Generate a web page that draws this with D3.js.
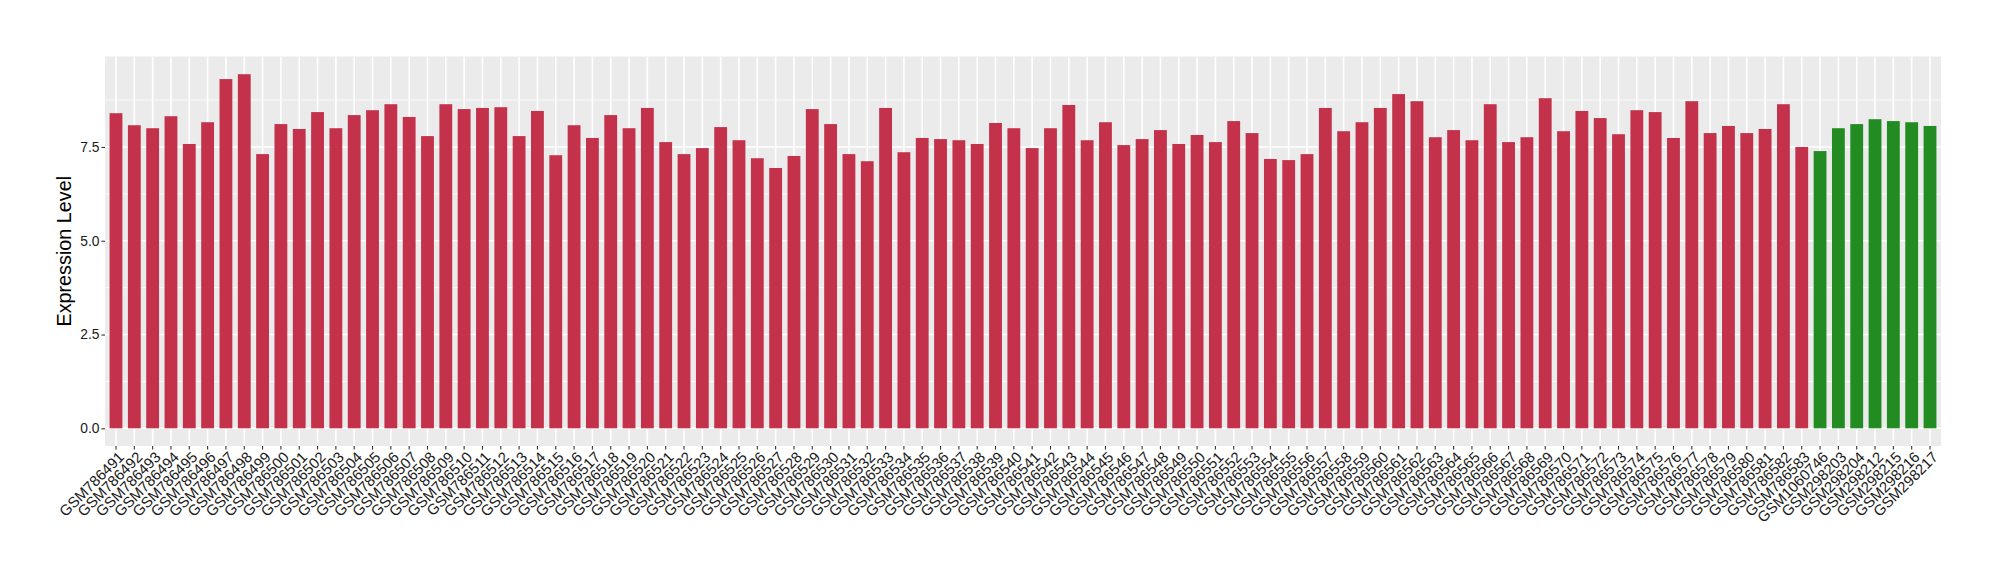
<!DOCTYPE html>
<html>
<head>
<meta charset="utf-8">
<script src="https://cdn.jsdelivr.net/npm/d3@7"></script>
<style>
  body { margin: 0; background: #ffffff; }
  text { font-family: "Liberation Sans", Arial, sans-serif; }
</style>
</head>
<body>
<svg id="barChart"></svg>
<script>
// samples, red group
var tumorSamples = ["GSM786491", "GSM786492", "GSM786493", "GSM786494", "GSM786495", "GSM786496", "GSM786497", "GSM786498", "GSM786499", "GSM786500",
    "GSM786501", "GSM786502", "GSM786503", "GSM786504", "GSM786505", "GSM786506", "GSM786507", "GSM786508", "GSM786509", "GSM786510",
    "GSM786511", "GSM786512", "GSM786513", "GSM786514", "GSM786515", "GSM786516", "GSM786517", "GSM786518", "GSM786519", "GSM786520",
    "GSM786521", "GSM786522", "GSM786523", "GSM786524", "GSM786525", "GSM786526", "GSM786527", "GSM786528", "GSM786529", "GSM786530",
    "GSM786531", "GSM786532", "GSM786533", "GSM786534", "GSM786535", "GSM786536", "GSM786537", "GSM786538", "GSM786539", "GSM786540",
    "GSM786541", "GSM786542", "GSM786543", "GSM786544", "GSM786545", "GSM786546", "GSM786547", "GSM786548", "GSM786549", "GSM786550",
    "GSM786551", "GSM786552", "GSM786553", "GSM786554", "GSM786555", "GSM786556", "GSM786557", "GSM786558", "GSM786559", "GSM786560",
    "GSM786561", "GSM786562", "GSM786563", "GSM786564", "GSM786565", "GSM786566", "GSM786567", "GSM786568", "GSM786569", "GSM786570",
    "GSM786571", "GSM786572", "GSM786573", "GSM786574", "GSM786575", "GSM786576", "GSM786577", "GSM786578", "GSM786579", "GSM786580",
    "GSM786581", "GSM786582", "GSM786583"];
var tumorValues = [8.40, 8.08, 8.00, 8.32, 7.58, 8.16, 9.31, 9.44, 7.31, 8.11,
    7.98, 8.43, 8.00, 8.35, 8.48, 8.64, 8.30, 7.79, 8.64, 8.51,
    8.54, 8.56, 7.79, 8.46, 7.28, 8.08, 7.74, 8.35, 8.00, 8.54,
    7.63, 7.31, 7.47, 8.03, 7.68, 7.20, 6.94, 7.26, 8.51, 8.11,
    7.31, 7.12, 8.54, 7.36, 7.74, 7.71, 7.68, 7.58, 8.14, 8.00,
    7.47, 8.00, 8.62, 7.68, 8.16, 7.55, 7.71, 7.95, 7.58, 7.82,
    7.63, 8.19, 7.87, 7.18, 7.15, 7.31, 8.54, 7.92, 8.16, 8.54,
    8.91, 8.72, 7.76, 7.95, 7.68, 8.64, 7.63, 7.76, 8.80, 7.92,
    8.46, 8.27, 7.84, 8.48, 8.43, 7.74, 8.72, 7.87, 8.06, 7.87,
    7.98, 8.64, 7.50];

// samples, green group
var normalSamples = ["GSM1060746", "GSM298203", "GSM298204", "GSM298212", "GSM298215", "GSM298216", "GSM298217"];
var normalValues = [7.39, 8.00, 8.11, 8.24, 8.19, 8.16, 8.06];

var groupNames = ["tumor", "normal"];
var groupColors = ["#c3314a", "#228b22"];

var yTicks = [0, 2.5, 5.0, 7.5];

// one row per bar, in drawing order
var rows = [];
for (let index = 0; index < tumorSamples.length; index++) {
    rows.push({ sample: tumorSamples[index], value: tumorValues[index], group: "tumor" });
}
for (let index = 0; index < normalSamples.length; index++) {
    rows.push({ sample: normalSamples[index], value: normalValues[index], group: "normal" });
}

var w = 2000;
var h = 580;
let margin = ({ top: 56.5, right: 59, bottom: 134, left: 105 });

var svg = d3.select("#barChart")
    .attr("width", w)
    .attr("height", h);

var maxValue = d3.max(rows, d => d.value);

// ggplot style 5% expansion
var yScale = d3.scaleLinear()
    .domain([-0.05 * maxValue, 1.05 * maxValue])
    .range([h - margin.bottom, margin.top]);

var xScale = d3.scaleBand()
    .domain(rows.map(d => d.sample))
    .range([margin.left, w - margin.right])
    .paddingInner(0.3)
    .paddingOuter(0.25);

var color = d3.scaleOrdinal()
    .domain(groupNames)
    .range(groupColors);

// grey panel
svg.append("rect")
    .attr("x", margin.left)
    .attr("y", margin.top)
    .attr("width", w - margin.left - margin.right)
    .attr("height", h - margin.top - margin.bottom)
    .attr("fill", "#ebebeb");

// minor grid halfway between the major ticks
var minorTicks = yTicks.map(t => t + 1.25).filter(t => t < yScale.domain()[1]);

svg.append("g")
    .selectAll("line")
    .data(minorTicks)
    .join("line")
    .attr("x1", margin.left)
    .attr("x2", w - margin.right)
    .attr("y1", d => yScale(d))
    .attr("y2", d => yScale(d))
    .attr("stroke", "#ffffff")
    .attr("stroke-width", 0.8);

svg.append("g")
    .selectAll("line")
    .data(yTicks)
    .join("line")
    .attr("x1", margin.left)
    .attr("x2", w - margin.right)
    .attr("y1", d => yScale(d))
    .attr("y2", d => yScale(d))
    .attr("stroke", "#ffffff")
    .attr("stroke-width", 1.6);

// vertical grid at every sample
svg.append("g")
    .selectAll("line")
    .data(rows)
    .join("line")
    .attr("x1", d => xScale(d.sample) + xScale.bandwidth() / 2)
    .attr("x2", d => xScale(d.sample) + xScale.bandwidth() / 2)
    .attr("y1", margin.top)
    .attr("y2", h - margin.bottom)
    .attr("stroke", "#ffffff")
    .attr("stroke-width", 1.6);

svg.append("g")
    .selectAll("rect")
    .data(rows)
    .join("rect")
    .attr("x", d => xScale(d.sample))
    .attr("y", d => yScale(d.value))
    .attr("width", xScale.bandwidth())
    .attr("height", d => yScale(0) - yScale(d.value))
    .attr("fill", d => color(d.group));

let yAxis = g => g
    .attr("transform", `translate(${margin.left},0)`)
    .call(d3.axisLeft(yScale).tickValues(yTicks).tickFormat(d3.format(".1f")).tickSizeOuter(0).tickSize(3.6).tickPadding(2))
    .call(g => g.select(".domain").remove())
    .call(g => g.selectAll(".tick line").attr("stroke", "#333333").attr("stroke-width", 1.1))
    .call(g => g.selectAll(".tick text").attr("fill", "#1a1a1a").style("font-size", "13.8px"));

svg.append("g")
    .call(yAxis);

// labels turned 45 degrees, ending at the tick
let xAxis = g => g
    .attr("transform", `translate(0,${h - margin.bottom})`)
    .call(d3.axisBottom(xScale).tickSizeOuter(0).tickSize(3.6))
    .call(g => g.select(".domain").remove())
    .call(g => g.selectAll(".tick line").attr("stroke", "#333333").attr("stroke-width", 1.1))
    .call(g => g.selectAll(".tick text")
        .attr("fill", "#1a1a1a")
        .style("font-size", "15px")
        .attr("text-anchor", "end")
        .attr("dy", null)
        .attr("y", null)
        .attr("transform", "translate(9,12) rotate(-45)"));

svg.append("g")
    .call(xAxis);

svg.append("text")
    .attr("transform", `translate(71,${(margin.top + h - margin.bottom) / 2}) rotate(-90)`)
    .attr("text-anchor", "middle")
    .attr("fill", "#000000")
    .style("font-size", "19.8px")
    .text("Expression Level");
</script>
</body>
</html>
